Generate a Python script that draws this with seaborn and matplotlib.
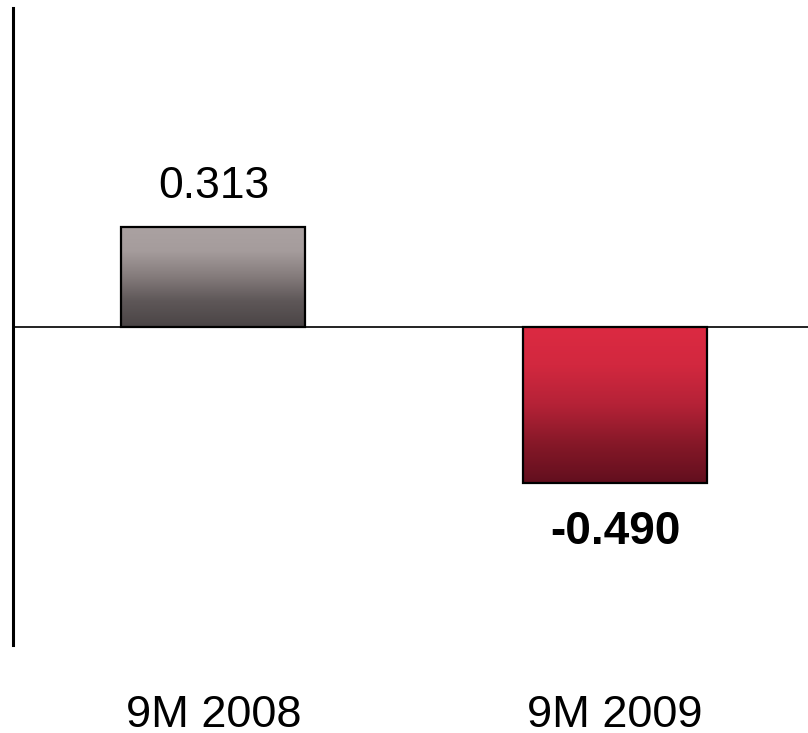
import numpy as np
import pandas as pd
import matplotlib
matplotlib.use("Agg")
import matplotlib.pyplot as plt
import matplotlib.transforms as mtransforms
from matplotlib.colors import LinearSegmentedColormap
import seaborn as sns

periods = ["9M 2008", "9M 2009"]
values = [0.313, -0.490]
value_labels = ["0.313", "-0.490"]
label_weights = ["normal", "bold"]

# vertical gradient stops, listed from the top of each bar to its bottom
grey_stops = ["#aba2a2", "#a59c9c", "#857c7c", "#5e5758", "#4b4546"]
red_stops = ["#dc2a42", "#d2283f", "#b52237", "#861828", "#620f1e"]

sns.set_theme(style="white")
plt.rcParams["font.family"] = ["Liberation Sans", "DejaVu Sans"]

df = pd.DataFrame({"period": periods, "value": values})

fig = plt.figure(figsize=(8.08, 7.33), dpi=100)
ax = fig.add_axes([12.5 / 808, 1 - 645 / 733, 1 - 12.5 / 808, 637 / 733])

sns.barplot(data=df, x="period", y="value", ax=ax, width=0.458,
            color="white", edgecolor="black", linewidth=1.6, zorder=3)

# fill each bar with its vertical gradient, clipped to the bar outline
for patch, stops in zip(ax.patches, [grey_stops, red_stops]):
    x0, y0 = patch.get_x(), patch.get_y()
    w, h = patch.get_width(), patch.get_height()
    ylo, yhi = min(y0, y0 + h), max(y0, y0 + h)
    cmap = LinearSegmentedColormap.from_list("grad", stops)
    grad = np.linspace(0, 1, 256).reshape(-1, 1)
    im = ax.imshow(grad, cmap=cmap, aspect="auto", origin="upper",
                   extent=[x0, x0 + w, ylo, yhi], zorder=2.5,
                   interpolation="bicubic")
    im.set_clip_path(patch)
    patch.set_facecolor("none")

ax.set_xlim(-0.5, 1.48)
ax.set_ylim(-1.0, 1.0)

ax.axhline(0, color="#222222", linewidth=1.4, zorder=2)

# value labels above / below each bar
for i, (v, lab, wt) in enumerate(zip(values, value_labels, label_weights)):
    offset = 21 if v >= 0 else -44.5
    size = 32 if wt == "normal" else 33
    ax.annotate(lab, xy=(i, v), xytext=(0, offset), textcoords="offset points",
                ha="center", va="baseline", fontsize=size, fontweight=wt,
                color="black")

# period labels under the plot area
label_tf = mtransforms.blended_transform_factory(ax.transData, fig.transFigure)
for i, p in enumerate(periods):
    ax.text(i, 1 - 727 / 733, p, transform=label_tf, ha="center",
            va="baseline", fontsize=32.5, color="black", clip_on=False)

ax.set_xlabel("")
ax.set_ylabel("")
ax.set_yticks([])
ax.set_xticks([])

for side in ["top", "right", "bottom"]:
    ax.spines[side].set_visible(False)
ax.spines["left"].set_color("black")
ax.spines["left"].set_linewidth(2.2)

fig.savefig("out.png", dpi=100)
